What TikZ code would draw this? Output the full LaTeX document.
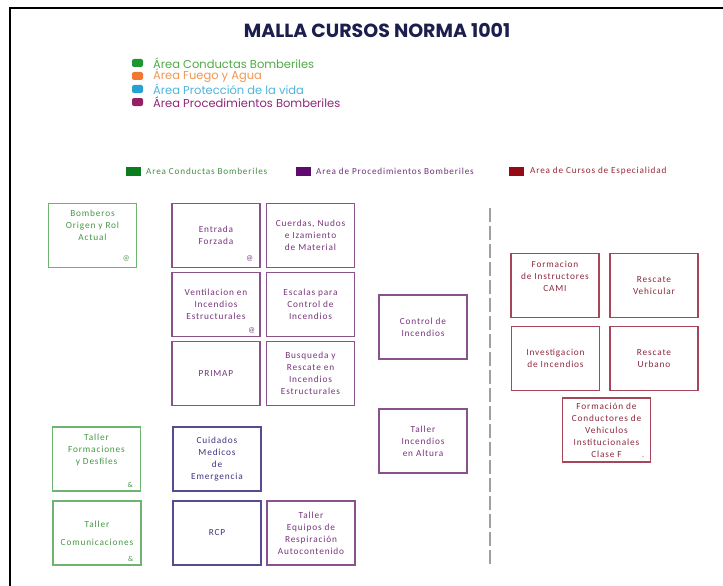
\documentclass[tikz,border=0pt]{standalone}
\usepackage{fontspec}
\setmainfont{Carlito}
\newfontfamily\gothic{Poppins}
\newfontfamily\boxfont[LetterSpace=9]{Carlito}
\definecolor{navy}{RGB}{28,30,78}
\definecolor{grnbox}{RGB}{112,178,112}
\definecolor{grntxt}{RGB}{70,150,70}
\definecolor{purbox}{RGB}{138,82,138}
\definecolor{purtxt}{RGB}{120,50,125}
\definecolor{indbox}{RGB}{86,76,150}
\definecolor{indtxt}{RGB}{62,52,130}
\definecolor{redbox}{RGB}{165,70,90}
\definecolor{redtxt}{RGB}{140,40,60}
\begin{document}
\begin{tikzpicture}[x=1pt,y=-1pt,
  box/.style={draw, line width=1.3pt, minimum width=88pt, minimum height=64pt,
    align=center, inner sep=2pt, font=\boxfont\fontsize{9.3}{12}\selectfont},
  gbox/.style={box, draw=grnbox, text=grntxt},
  pbox/.style={box, draw=purbox, text=purtxt},
  ibox/.style={box, draw=indbox, text=indtxt},
  rbox/.style={box, draw=redbox, text=redtxt},
  corner/.style={font=\fontsize{7.5}{7.5}\selectfont, inner sep=0pt},
  key/.style={anchor=west, inner sep=0pt, font=\gothic\fontsize{11.5}{13}\selectfont},
  sq/.style={rounded corners=2pt, minimum width=11pt, minimum height=8pt, inner sep=0pt},
  key2/.style={anchor=west, inner sep=0pt, font=\boxfont\fontsize{9.2}{10}\selectfont},
  sq2/.style={minimum width=15pt, minimum height=9pt, inner sep=0pt}]
\useasboundingbox (0,0) rectangle (723,586);
% frame
\draw[line width=2.5pt] (10,586) -- (10,8) -- (723,8);

% title
\node[text=navy, font=\gothic\bfseries\fontsize{19}{22}\selectfont] (title) at (377,30) {MALLA CURSOS NORMA 1001};

% first legend
\node[sq, fill={rgb,255:red,30;green,150;blue,50}] (s1) at (137.5,63) {};
\node[sq, fill={rgb,255:red,240;green,120;blue,50}] (s2) at (137.5,76) {};
\node[sq, fill={rgb,255:red,40;green,160;blue,210}] (s3) at (137.5,89) {};
\node[sq, fill={rgb,255:red,150;green,30;blue,100}] (s4) at (137.5,102) {};
\node[key, text={rgb,255:red,80;green,170;blue,70}] (k1) at (153,63) {Área Conductas Bomberiles};
\node[key, text={rgb,255:red,240;green,150;blue,80}] (k2) at (153,76) {Área Fuego y Agua};
\node[key, text={rgb,255:red,80;green,180;blue,220}] (k3) at (153,89) {Área Protección de la vida};
\node[key, text={rgb,255:red,140;green,40;blue,120}] (k4) at (153,102) {Área Procedimientos Bomberiles};

% second legend
\node[sq2, fill={rgb,255:red,10;green,125;blue,30}] (q1) at (133.5,171.5) {};
\node[sq2, fill={rgb,255:red,95;green,10;blue,110}] (q2) at (303.5,171.5) {};
\node[sq2, fill={rgb,255:red,150;green,10;blue,20}] (q3) at (516,171.5) {};
\node[key2, text={rgb,255:red,70;green,140;blue,70}] (l1) at (146,171.5) {Area Conductas Bomberiles};
\node[key2, text={rgb,255:red,110;green,50;blue,120}] (l2) at (316,171.5) {Area de Procedimientos Bomberiles};
\node[key2, text={rgb,255:red,150;green,40;blue,50}] (l3) at (530,171.5) {Area de Cursos de Especialidad};

% courses
\node[gbox] (1) at (92.5,235.5) {Bomberos\\Origen y Rol\\Actual\\[8pt]};
\node[pbox] (2) at (216,235.5) {Entrada\\Forzada};
\node[pbox] (3) at (310.5,235.5) {Cuerdas, Nudos\\e Izamiento\\de Material};
\node[pbox] (4) at (216,304.5) {Ventilacion en\\Incendios\\Estructurales};
\node[pbox] (5) at (310.5,304.5) {Escalas para\\Control de\\Incendios};
\node[pbox] (6) at (216,373.5) {PRIMAP};
\node[pbox] (7) at (310.5,373.5) {Busqueda y\\Rescate en\\Incendios\\Estructurales};
\node[pbox] (8) at (423,327) {Control de\\Incendios};
\node[pbox] (9) at (423,441) {Taller\\Incendios\\en Altura};
\node[gbox] (10) at (96.5,459) {Taller\\Formaciones\\y Desfiles\\[8pt]};
\node[gbox] (11) at (97,533) {Taller\\[6pt]Comunicaciones};
\node[ibox] (12) at (217,459) {Cuidados\\Medicos\\de\\Emergencia};
\node[ibox] (13) at (217,533) {RCP};
\node[pbox] (14) at (311,533) {Taller\\Equipos de\\Respiración\\Autocontenido};
\node[rbox] (15) at (555,285.5) {Formacion\\de Instructores\\CAMI\\[6pt]};
\node[rbox] (16) at (654,285.5) {Rescate\\Vehicular};
\node[rbox] (17) at (555.5,358.5) {Investigacion\\de Incendios};
\node[rbox] (18) at (654,358.5) {Rescate\\Urbano};
\node[rbox] (19) at (606.5,430) {Formación de\\Conductores de\\Vehiculos\\Institucionales\\Clase F};

% small marks
\node[corner, text=grntxt] (m1) at ([shift={(-11,-10)}]1.south east) {@};
\node[corner, text=purtxt] (m2) at ([shift={(-11,-10)}]2.south east) {@};
\node[corner, text=purtxt] (m4) at ([shift={(-9,-7)}]4.south east) {@};
\node[corner, text=grntxt] (m10) at ([shift={(-11,-7)}]10.south east) {\&};
\node[corner, text=grntxt] (m11) at ([shift={(-11,-7)}]11.south east) {\&};
\node[corner, text=redtxt] (m19) at ([shift={(-8,-6)}]19.south east) {.};

% divider
\draw[line width=2.2pt, color=gray!75, dash pattern=on 14pt off 4pt] (490,208) -- (490,565);
\end{tikzpicture}
\end{document}
